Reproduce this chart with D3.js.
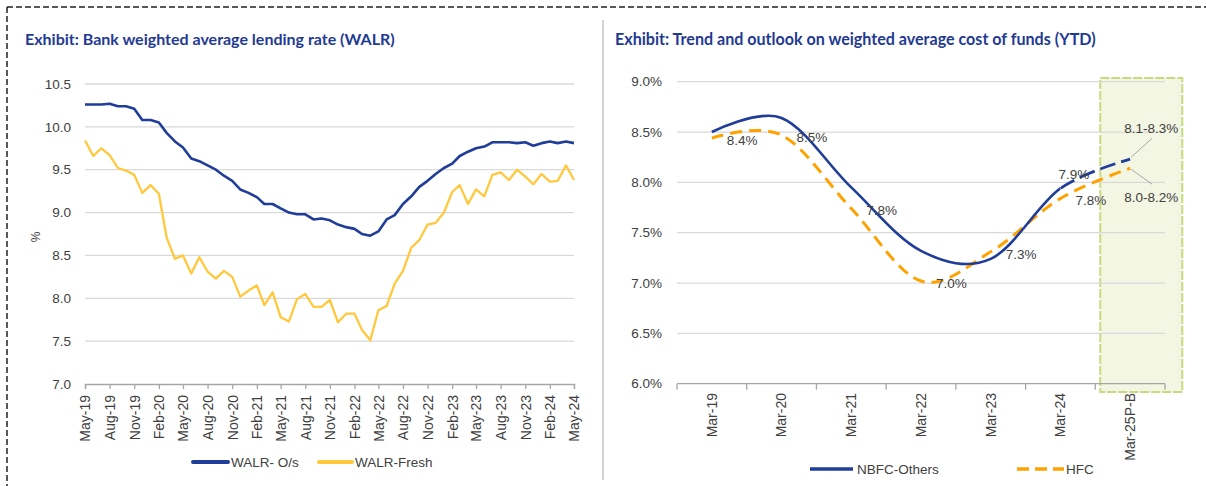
<!DOCTYPE html>
<html>
<head>
<meta charset="utf-8">
<script src="https://cdnjs.cloudflare.com/ajax/libs/d3/7.8.5/d3.min.js"></script>
<style>
  body { margin: 0; background: #fff; }
  svg { display: block; }
  text { font-family: "Liberation Sans", Arial, sans-serif; fill: #404040; }
  .title { font-family: Lato, "Open Sans", sans-serif; font-weight: bold; fill: #1f3a93; }
</style>
</head>
<body>
<div id="chart"></div>
<script>
var width = 1206;
var height = 486;

// left chart: monthly WALR, May-19 .. May-24
var walrOs = [
  10.26, 10.26, 10.26, 10.27, 10.24, 10.24, 10.21, 10.08, 10.08, 10.05,
  9.93, 9.83, 9.76, 9.63, 9.60, 9.55, 9.50, 9.43, 9.37, 9.27,
  9.23, 9.18, 9.10, 9.10, 9.05, 9.00, 8.98, 8.98, 8.92, 8.93,
  8.91, 8.86, 8.83, 8.81, 8.75, 8.73, 8.78, 8.92, 8.97, 9.10,
  9.19, 9.30, 9.37, 9.45, 9.52, 9.57, 9.66, 9.71, 9.75, 9.77,
  9.82, 9.82, 9.82, 9.81, 9.82, 9.78, 9.81, 9.83, 9.81, 9.83,
  9.81
];
var walrFresh = [
  9.84, 9.66, 9.75, 9.67, 9.52, 9.49, 9.44, 9.23, 9.32, 9.22,
  8.71, 8.46, 8.50, 8.29, 8.48, 8.31, 8.23, 8.32, 8.25, 8.02,
  8.09, 8.15, 7.92, 8.07, 7.78, 7.73, 7.99, 8.05, 7.90, 7.90,
  7.98, 7.72, 7.82, 7.82, 7.63, 7.51, 7.86, 7.91, 8.17, 8.32,
  8.59, 8.68, 8.86, 8.88, 9.00, 9.24, 9.32, 9.10, 9.27, 9.19,
  9.44, 9.47, 9.38, 9.50, 9.42, 9.33, 9.45, 9.36, 9.37, 9.55,
  9.38
];
var leftTicks = [7.0, 7.5, 8.0, 8.5, 9.0, 9.5, 10.0, 10.5];

// right chart: cost of funds (YTD)
var fundCats = ["Mar-19", "Mar-20", "Mar-21", "Mar-22", "Mar-23", "Mar-24", "Mar-25P-B"];
var nbfc = [8.50, 8.64, 7.95, 7.32, 7.24, 7.94, 8.23];
var hfc = [8.44, 8.47, 7.74, 7.02, 7.31, 7.84, 8.14];
var hfcLabels = ["8.4%", "8.5%", "7.8%", "7.0%", "7.3%", "7.8%"];
var nbfcLabel = "7.9%";
var rangeNbfc = "8.1-8.3%";
var rangeHfc = "8.0-8.2%";
var rightTicks = [6.0, 6.5, 7.0, 7.5, 8.0, 8.5, 9.0];

var blue = "#1f3d99", yellow = "#ffc83d", orange = "#ffa200", grid = "#d9d9d9";

var svg = d3.select("#chart").append("svg")
    .attr("width", width)
    .attr("height", height);

// frame
svg.append("line").attr("x1", 7).attr("x2", width).attr("y1", 7).attr("y2", 7)
    .attr("stroke", "#222").attr("stroke-width", 1.5).attr("stroke-dasharray", "6,3");
svg.append("line").attr("x1", 7).attr("x2", 7).attr("y1", 7).attr("y2", height)
    .attr("stroke", "#222").attr("stroke-width", 1.5).attr("stroke-dasharray", "6,3");
svg.append("line").attr("x1", 603).attr("x2", 603).attr("y1", 20).attr("y2", 480)
    .attr("stroke", "#d4d4d4").attr("stroke-width", 2);

function fitTitle(sel, target) {
  var w = sel.node().getComputedTextLength();
  sel.style("font-size", (14 * target / w) + "px");
}

// ---------- left chart ----------
var months = d3.timeMonth.range(new Date(2019, 4, 1), new Date(2024, 5, 1));
var fmtMonth = d3.timeFormat("%b-%y");

var xL = d3.scaleTime()
    .domain([months[0], months[months.length - 1]])
    .range([85, 574]);
var yL = d3.scaleLinear().domain([7, 10.5]).range([384, 84]);

var t1 = svg.append("text").attr("class", "title")
    .attr("x", 25).attr("y", 45).style("font-size", "14px")
    .text("Exhibit: Bank weighted average lending rate (WALR)");
fitTitle(t1, 370);

svg.append("g").selectAll("line")
    .data(leftTicks.slice(1))
    .enter().append("line")
    .attr("x1", 85).attr("x2", 574)
    .attr("y1", function(d) { return yL(d); })
    .attr("y2", function(d) { return yL(d); })
    .attr("stroke", grid).attr("stroke-width", 1.3);

svg.append("g").selectAll("text")
    .data(leftTicks)
    .enter().append("text")
    .attr("x", 71)
    .attr("y", function(d) { return yL(d); })
    .attr("dy", "0.35em")
    .attr("text-anchor", "end")
    .style("font-size", "13.5px")
    .text(function(d) { return d.toFixed(1); });

svg.append("text")
    .attr("transform", "translate(40,237) rotate(-90)")
    .attr("text-anchor", "middle")
    .style("font-size", "12px")
    .text("%");

var xAxisL = d3.axisBottom(xL)
    .tickValues(months.filter(function(d, i) { return i % 3 === 0; }))
    .tickSize(5)
    .tickFormat(fmtMonth);

var gxL = svg.append("g").attr("transform", "translate(0,384)").call(xAxisL);
gxL.select(".domain").attr("stroke", "#a6a6a6").attr("stroke-width", 1.3);
gxL.selectAll(".tick line").attr("stroke", "#a6a6a6").attr("stroke-width", 1.3);
gxL.selectAll(".tick text")
    .attr("transform", "rotate(-90)")
    .attr("x", -11).attr("y", 0).attr("dy", "0.35em")
    .attr("text-anchor", "end")
    .style("font-family", "Liberation Sans, Arial, sans-serif")
    .style("font-size", "14px")
    .attr("fill", "#333");

var lineL = function(series) {
  return d3.line()
    .x(function(d, i) { return xL(months[i]); })
    .y(function(d) { return yL(d); })(series);
};

svg.append("path").attr("d", lineL(walrFresh))
    .attr("fill", "none").attr("stroke", yellow).attr("stroke-width", 2.3)
    .attr("stroke-linejoin", "round");
svg.append("path").attr("d", lineL(walrOs))
    .attr("fill", "none").attr("stroke", blue).attr("stroke-width", 2.6)
    .attr("stroke-linejoin", "round");

// left legend
var legL = svg.append("g").attr("transform", "translate(0,462)");
legL.append("line").attr("x1", 193).attr("x2", 228).attr("stroke", blue)
    .attr("stroke-width", 4).attr("stroke-linecap", "round");
legL.append("text").attr("x", 231).attr("dy", "0.35em").style("font-size", "13.5px").text("WALR- O/s");
legL.append("line").attr("x1", 319).attr("x2", 352).attr("stroke", yellow)
    .attr("stroke-width", 4).attr("stroke-linecap", "round");
legL.append("text").attr("x", 355).attr("dy", "0.35em").style("font-size", "13.5px").text("WALR-Fresh");

// ---------- right chart ----------
var xR = d3.scaleBand().domain(fundCats).range([677, 1165]);
var yR = d3.scaleLinear().domain([6, 9]).range([383.7, 81.7]);
var cx = function(i) { return xR(fundCats[i]) + xR.bandwidth() / 2; };

var t2 = svg.append("text").attr("class", "title")
    .attr("x", 615).attr("y", 45).style("font-size", "14px")
    .text("Exhibit: Trend and outlook on weighted average cost of funds (YTD)");
fitTitle(t2, 481);

// highlight of the projected year
var lastX = xR(fundCats[fundCats.length - 1]);
svg.append("rect")
    .attr("x", lastX + 5).attr("y", 78)
    .attr("width", 82).attr("height", 314)
    .attr("fill", "#f3f6e3").attr("stroke", "#c6da7e")
    .attr("stroke-width", 2).attr("stroke-dasharray", "9,2");

svg.append("g").selectAll("line")
    .data(rightTicks.slice(1))
    .enter().append("line")
    .attr("x1", 677).attr("x2", 1165)
    .attr("y1", function(d) { return yR(d); })
    .attr("y2", function(d) { return yR(d); })
    .attr("stroke", grid).attr("stroke-width", 1.3);

svg.append("g").selectAll("text")
    .data(rightTicks)
    .enter().append("text")
    .attr("x", 662)
    .attr("y", function(d) { return yR(d); })
    .attr("dy", "0.35em")
    .attr("text-anchor", "end")
    .style("font-size", "13.5px")
    .text(function(d) { return d.toFixed(1) + "%"; });

// category axis with ticks between categories
var gxR = svg.append("g");
gxR.append("line").attr("x1", 677).attr("x2", 1165).attr("y1", yR(6)).attr("y2", yR(6))
    .attr("stroke", "#a6a6a6").attr("stroke-width", 1.3);
gxR.selectAll(".tk")
    .data(fundCats.concat(["end"]))
    .enter().append("line")
    .attr("class", "tk")
    .attr("x1", function(d, i) { return 677 + i * xR.bandwidth(); })
    .attr("x2", function(d, i) { return 677 + i * xR.bandwidth(); })
    .attr("y1", yR(6)).attr("y2", yR(6) + 6)
    .attr("stroke", "#a6a6a6").attr("stroke-width", 1.3);
gxR.selectAll("text")
    .data(fundCats)
    .enter().append("text")
    .attr("transform", function(d, i) { return "translate(" + cx(i) + ",393) rotate(-90)"; })
    .attr("dy", "0.35em")
    .attr("text-anchor", "end")
    .style("font-size", "14px")
    .attr("fill", "#333")
    .text(function(d) { return d; });

var curve = d3.line()
    .x(function(d, i) { return cx(i); })
    .y(function(d) { return yR(d); })
    .curve(d3.curveCardinal.tension(0));

// nbfc: solid up to Mar-24, dashed for the projection
var splitX = cx(fundCats.length - 2);
var defs = svg.append("defs");
defs.append("clipPath").attr("id", "clip-solid").append("rect")
    .attr("x", 0).attr("y", 0).attr("width", splitX).attr("height", height);
defs.append("clipPath").attr("id", "clip-dash").append("rect")
    .attr("x", splitX).attr("y", 0).attr("width", width - splitX).attr("height", height);

svg.append("path").attr("d", curve(hfc))
    .attr("fill", "none").attr("stroke", orange).attr("stroke-width", 3)
    .attr("stroke-dasharray", "12,7");

svg.append("path").attr("d", curve(nbfc))
    .attr("clip-path", "url(#clip-solid)")
    .attr("fill", "none").attr("stroke", blue).attr("stroke-width", 2.6);

svg.append("path").attr("d", curve(nbfc))
    .attr("clip-path", "url(#clip-dash)")
    .attr("fill", "none").attr("stroke", blue).attr("stroke-width", 2.8)
    .attr("stroke-dasharray", "16,6")
    .attr("stroke-dashoffset", function() {
      // start the dash pattern at the Mar-24 point
      var p = this, len = p.getTotalLength(), lo = 0, hi = len;
      for (var k = 0; k < 30; k++) {
        var mid = (lo + hi) / 2;
        if (p.getPointAtLength(mid).x < splitX) lo = mid; else hi = mid;
      }
      return -lo;
    });

// data labels
svg.append("g").selectAll("text")
    .data(hfcLabels)
    .enter().append("text")
    .attr("x", function(d, i) { return cx(i) + 15; })
    .attr("y", function(d, i) { return yR(hfc[i]) + 2; })
    .attr("dy", "0.35em")
    .style("font-size", "13.5px")
    .text(function(d) { return d; });

var i5 = fundCats.length - 2, i6 = fundCats.length - 1;
svg.append("text")
    .attr("x", cx(i5) - 2).attr("y", yR(nbfc[i5]) - 14)
    .attr("dy", "0.35em").style("font-size", "13.5px")
    .text(nbfcLabel);

var pN = [cx(i6), yR(nbfc[i6])], pH = [cx(i6), yR(hfc[i6])];
svg.append("line")
    .attr("x1", pN[0] + 1).attr("y1", pN[1] - 2)
    .attr("x2", pN[0] + 22).attr("y2", pN[1] - 21)
    .attr("stroke", "#a6a6a6").attr("stroke-width", 1);
svg.append("line")
    .attr("x1", pH[0] + 1).attr("y1", pH[1] + 1)
    .attr("x2", pH[0] + 22).attr("y2", pH[1] + 16)
    .attr("stroke", "#a6a6a6").attr("stroke-width", 1);
svg.append("text")
    .attr("x", pN[0] - 6).attr("y", pN[1] - 31)
    .attr("dy", "0.35em").style("font-size", "13.5px")
    .text(rangeNbfc);
svg.append("text")
    .attr("x", pH[0] - 6).attr("y", pH[1] + 29)
    .attr("dy", "0.35em").style("font-size", "13.5px")
    .text(rangeHfc);

// right legend
var legR = svg.append("g").attr("transform", "translate(0,469)");
legR.append("line").attr("x1", 810).attr("x2", 853).attr("stroke", blue).attr("stroke-width", 3.5);
legR.append("text").attr("x", 857).attr("dy", "0.35em").style("font-size", "13.5px").text("NBFC-Others");
legR.append("line").attr("x1", 1017).attr("x2", 1064).attr("stroke", orange)
    .attr("stroke-width", 3.5).attr("stroke-dasharray", "12,6");
legR.append("text").attr("x", 1066).attr("dy", "0.35em").style("font-size", "13.5px").text("HFC");
</script>
</body>
</html>
